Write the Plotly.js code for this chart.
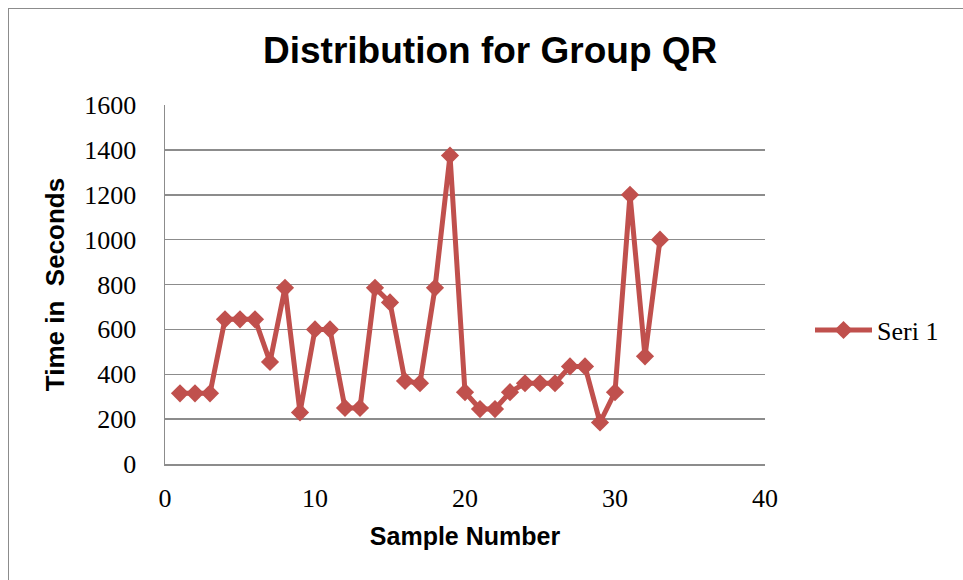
<!DOCTYPE html>
<html>
<head>
<meta charset="utf-8">
<script src="https://cdn.plot.ly/plotly-3.0.1.min.js"></script>
<style>
html,body{margin:0;padding:0;background:#fff;}
#chart{width:963px;height:580px;}
#frame{position:absolute;left:8px;top:8px;width:1000px;height:700px;border-left:1.5px solid #8c8c8c;border-top:1.5px solid #8c8c8c;pointer-events:none;}
</style>
</head>
<body>
<div id="chart"></div>
<div id="frame"></div>
<script>
const sampleNumbers = [1,2,3,4,5,6,7,8,9,10,11,12,13,14,15,16,17,18,19,20,21,22,23,24,25,26,27,28,29,30,31,32,33];
const timeSeconds = [315,315,315,645,645,645,455,785,230,600,600,250,250,785,720,370,360,785,1375,320,245,245,320,360,360,360,435,435,185,320,1200,480,1000];
const seriesName = 'Seri 1';
const xTicks = [0,10,20,30,40];
const yTicks = [0,200,400,600,800,1000,1200,1400,1600];

const serif = '"Liberation Serif", "DejaVu Serif", serif';
const sans = '"Liberation Sans", Arial, sans-serif';

const trace = {
  x: sampleNumbers,
  y: timeSeconds,
  name: seriesName,
  type: 'scatter',
  mode: 'lines+markers',
  line: {color: '#C0504D', width: 5},
  marker: {symbol: 'diamond', size: 14, color: '#C0504D'},
  showlegend: true
};

const layout = {
  width: 963, height: 580,
  margin: {l: 165, r: 198, t: 105, b: 116},
  paper_bgcolor: '#fff', plot_bgcolor: '#fff',
  title: {text: 'Distribution for Group QR', font: {family: sans, size: 37, color: '#000', weight: 'bold'},
          xref: 'container', x: 0.509, xanchor: 'center', yref: 'container', y: 0.9145, yanchor: 'middle'},
  xaxis: {
    range: [0, 40], tickvals: xTicks, ticktext: xTicks.map(String),
    showgrid: false, zeroline: false, showline: true, linecolor: '#8c8c8c', linewidth: 1.5,
    ticks: '', ticklabelstandoff: 10,
    tickfont: {family: serif, size: 26, color: '#000'},
    title: {text: 'Sample Number', font: {family: sans, size: 25, color: '#000', weight: 'bold'}, standoff: 16}
  },
  yaxis: {
    range: [0, 1600], tickvals: yTicks, ticktext: yTicks.map(String),
    showgrid: true, gridcolor: '#8c8c8c', gridwidth: 1.5,
    zeroline: false, showline: true, linecolor: '#8c8c8c', linewidth: 1.5,
    ticks: '', ticklabelstandoff: 22,
    tickfont: {family: serif, size: 26, color: '#000'},
    title: {text: 'Time in\u00a0 Seconds', font: {family: sans, size: 26, color: '#000', weight: 'bold'}, standoff: 12}
  },
  legend: {x: 1.075, xanchor: 'left', y: 0.373, yanchor: 'middle', itemwidth: 57,
           font: {family: serif, size: 26, color: '#000'}, bgcolor: 'rgba(0,0,0,0)'},
  showlegend: true
};

Plotly.newPlot('chart', [trace], layout, {displayModeBar: false, staticPlot: true});
</script>
</body>
</html>
